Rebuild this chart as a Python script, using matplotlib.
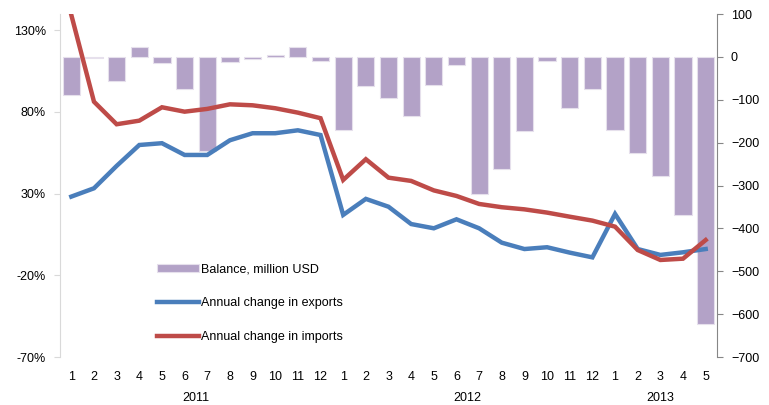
import matplotlib.pyplot as plt
import matplotlib.transforms as mtransforms
import numpy as np

plt.rcParams['font.family'] = ['Liberation Sans', 'DejaVu Sans']

# ******************************
# * Data                       *
# ******************************

months = [1, 2, 3, 4, 5, 6, 7, 8, 9, 10, 11, 12,
          1, 2, 3, 4, 5, 6, 7, 8, 9, 10, 11, 12,
          1, 2, 3, 4, 5]
years = ['2011', '2012', '2013']
year_counts = [12, 12, 5]

# trade balance, million USD (right axis)
balance = [-90, -2, -56, 24, -15, -76, -220, -13, -6, 4, 24, -9,
           -170, -67, -97, -139, -66, -18, -320, -261, -174, -9, -120, -76,
           -170, -224, -277, -368, -622]

# annual change, % (left axis)
exports = [28.2, 33.3, 47, 59.8, 60.9, 53.7, 53.7, 62.7, 67, 67, 68.8, 65.9,
           17, 26.8, 22, 11.4, 8.8, 14.3, 8.8, 0, -3.9, -2.8, -6.1, -9,
           17.6, -3.9, -7.5, -5.9, -3.9]
imports = [139.4, 86.3, 72.5, 74.7, 82.9, 80.2, 81.9, 84.7, 84.1, 82.3, 79.6, 76.2,
           38.4, 51.1, 39.8, 37.8, 32, 28.6, 23.7, 21.7, 20.4, 18.4, 15.9, 13.5,
           9.8, -4.5, -10.6, -9.8, 1.6]

# ******************************
# * Plot                       *
# ******************************

x = np.arange(len(months))

fig = plt.figure(figsize=(7.69, 4.05), dpi=100)
ax = fig.add_axes([60 / 769, 1 - 357 / 405, 657 / 769, 343 / 405])
ax2 = ax.twinx()

# bars behind the lines
ax.set_zorder(2)
ax.patch.set_visible(False)

bars = ax2.bar(x, balance, width=0.76, color='#B3A2C7', edgecolor='#E6E0EC',
               linewidth=0.8, label='Balance, million USD')
l1, = ax.plot(x, exports, color='#4A7EBB', lw=3.2, solid_joinstyle='miter',
              label='Annual change in exports')
l2, = ax.plot(x, imports, color='#BE4B48', lw=3.2, solid_joinstyle='miter',
              label='Annual change in imports')

ax.set_xlim(-0.5, len(months) - 0.5)
ax.set_ylim(-70, 140)
ax.set_yticks([-70, -20, 30, 80, 130])
ax.set_yticklabels([f'{v}%' for v in [-70, -20, 30, 80, 130]])
ax2.set_ylim(-700, 100)
ax2.set_yticks(np.arange(-700, 101, 100))

ax.set_xticks(x)
ax.set_xticklabels([str(m) for m in months])
ax.tick_params(axis='x', length=0, pad=10, labelsize=9)
ax.tick_params(axis='y', length=4, color='#D9D9D9', labelsize=9, pad=6)
ax2.tick_params(axis='y', length=4, color='#868686', labelsize=9, pad=6)

for a in (ax, ax2):
    a.spines['top'].set_visible(False)
    a.spines['bottom'].set_visible(False)
ax.spines['right'].set_visible(False)
ax2.spines['left'].set_visible(False)
ax.spines['left'].set_color('#D9D9D9')
ax2.spines['right'].set_color('#868686')

# year labels under the month labels
trans = mtransforms.blended_transform_factory(ax.transData, fig.transFigure)
start = 0
for yr, n in zip(years, year_counts):
    ax.text(start + (n - 1) / 2, 1 - 398 / 405, yr, transform=trans,
            ha='center', va='center', fontsize=9)
    start += n

ax.legend([bars, l1, l2],
          ['Balance, million USD', 'Annual change in exports', 'Annual change in imports'],
          loc='upper left', bbox_to_anchor=(146 / 769, 1 - 252 / 405),
          bbox_transform=fig.transFigure, frameon=False, fontsize=9,
          handlelength=3.3, handletextpad=0.2, labelspacing=1.75)

fig.savefig('out.png', dpi=100)
